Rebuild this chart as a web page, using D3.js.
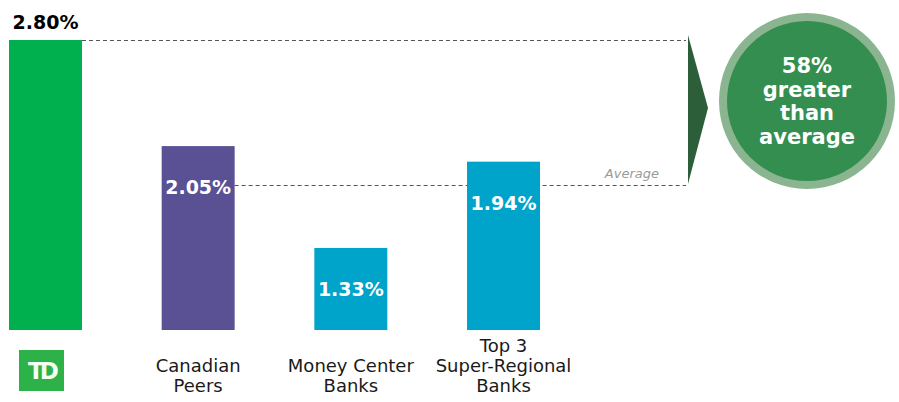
<!DOCTYPE html>
<meta charset="utf-8">
<style>
  body { margin: 0; background: #fff; }
  svg text { font-family: "DejaVu Sans", Verdana, sans-serif; }
</style>
<script src="https://d3js.org/d3.v7.min.js"></script>
<div id="chart"></div>
<script>
  // data
  var categories = ["TD", "Canadian Peers", "Money Center Banks", "Top 3 Super-Regional Banks"];
  var values = [2.80, 2.05, 1.33, 1.94];
  var labelLines = [[], ["Canadian", "Peers"], ["Money Center", "Banks"], ["Top 3", "Super-Regional", "Banks"]];
  var barColors = ["#00b04f", "#5a5195", "#00a3c9", "#00a3c9"];
  var calloutLines = ["58%", "greater", "than", "average"];

  var width = 899, height = 402;
  var svg = d3.select("#chart").append("svg")
      .attr("width", width).attr("height", height);

  var x = d3.scaleBand()
      .domain(categories)
      .range([9, 540])
      .paddingInner(0.522)
      .paddingOuter(0);

  // axis does not start at zero in the original
  var y = d3.scaleLinear()
      .domain([0.75, 2.80])
      .range([330, 40]);

  var peers = values.slice(1);
  var avg = d3.mean(peers);
  var pct = Math.round((values[0] / avg - 1) * 100);
  calloutLines[0] = pct + "%";

  var lineEnd = 686;

  // dashed reference lines
  svg.append("line")
      .attr("x1", x(categories[0]) + x.bandwidth()).attr("x2", lineEnd)
      .attr("y1", y(values[0]) + 0.5).attr("y2", y(values[0]) + 0.5)
      .attr("stroke", "#555").attr("stroke-dasharray", "4,3");
  svg.append("line")
      .attr("x1", x(categories[1]) + x.bandwidth()).attr("x2", lineEnd)
      .attr("y1", Math.round(y(avg)) + 0.5).attr("y2", Math.round(y(avg)) + 0.5)
      .attr("stroke", "#555").attr("stroke-dasharray", "4,3");
  svg.append("text")
      .attr("x", lineEnd - 27).attr("y", y(avg) - 7)
      .attr("text-anchor", "end")
      .style("font-style", "italic").style("font-size", "13px")
      .attr("fill", "#9a9a9a")
      .text("Average");

  // bars
  svg.selectAll("rect.bar")
    .data(values)
    .enter().append("rect")
      .attr("class", "bar")
      .attr("x", function(d, i) { return x(categories[i]); })
      .attr("y", function(d) { return y(d); })
      .attr("width", x.bandwidth())
      .attr("height", function(d) { return y.range()[0] - y(d); })
      .attr("fill", function(d, i) { return barColors[i]; });

  // value labels
  svg.selectAll("text.val")
    .data(values)
    .enter().append("text")
      .attr("class", "val")
      .attr("x", function(d, i) { return x(categories[i]) + x.bandwidth() / 2; })
      .attr("y", function(d, i) { return i == 0 ? y(d) - 11 : y(d) + 48; })
      .attr("text-anchor", "middle")
      .style("font-weight", "bold")
      .style("font-size", "19px")
      .attr("fill", function(d, i) { return i == 0 ? "#000" : "#fff"; })
      .text(function(d) { return d.toFixed(2) + "%"; });

  // category labels
  labelLines.forEach(function(lines, i) {
    var t = svg.append("text")
        .attr("text-anchor", "middle")
        .style("font-size", "18px")
        .attr("fill", "#1a1a1a");
    lines.forEach(function(l, j) {
      t.append("tspan")
        .attr("x", x(categories[i]) + x.bandwidth() / 2)
        .attr("y", 392 - (lines.length - 1 - j) * 20)
        .text(l);
    });
  });

  // TD logo
  var logo = svg.append("g").attr("transform", "translate(19,350)");
  logo.append("rect").attr("width", 45).attr("height", 41).attr("fill", "#2db24a");
  logo.append("text")
      .attr("x", 22.5).attr("y", 29)
      .attr("text-anchor", "middle")
      .style("font-size", "23px").style("font-weight", "bold")
      .style("letter-spacing", "-4px")
      .attr("fill", "#f4fff4")
      .text("TD");

  // arrow
  svg.append("path")
      .attr("d", "M688,35 L708,108 L688,184 Z")
      .attr("fill", "#2d5e3a");

  // callout circle
  var cx = 807, cy = 101;
  svg.append("circle").attr("cx", cx).attr("cy", cy).attr("r", 88).attr("fill", "#8ab590");
  svg.append("circle").attr("cx", cx).attr("cy", cy).attr("r", 80).attr("fill", "#348e50");
  var ct = svg.append("text")
      .attr("text-anchor", "middle")
      .style("font-weight", "bold").style("font-size", "21px")
      .attr("fill", "#fff");
  calloutLines.forEach(function(l, j) {
    ct.append("tspan").attr("x", cx).attr("y", 73 + j * 23.5).text(l);
  });
</script>
